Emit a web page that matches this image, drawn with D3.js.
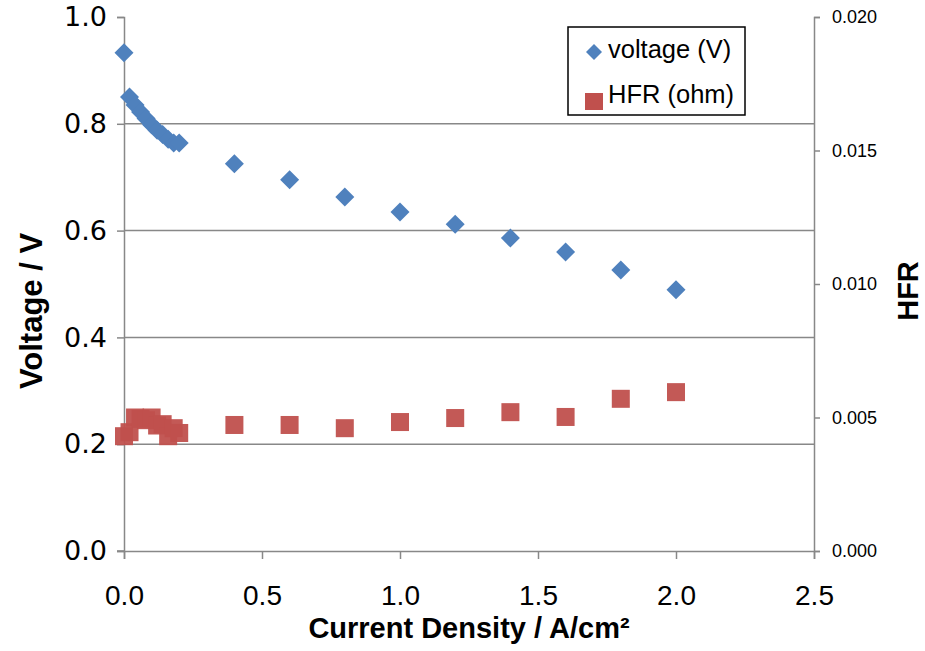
<!DOCTYPE html>
<html>
<head>
<meta charset="utf-8">
<script src="https://cdn.jsdelivr.net/npm/d3@7"></script>
<style>
  body { margin: 0; background: #fff; }
  svg { display: block; }
</style>
</head>
<body>
<svg id="chart"></svg>
<script>
// current density (A/cm2)
var current = [0, 0.02, 0.04, 0.06, 0.08, 0.10, 0.12, 0.14, 0.16, 0.18, 0.20,
               0.4, 0.6, 0.8, 1.0, 1.2, 1.4, 1.6, 1.8, 2.0];
// cell voltage (V)
var voltage = [0.933, 0.850, 0.835, 0.822, 0.810, 0.798, 0.788, 0.780, 0.771, 0.764, 0.764,
               0.725, 0.695, 0.663, 0.635, 0.612, 0.586, 0.560, 0.526, 0.489];
// high frequency resistance (ohm)
var hfr = [0.00430, 0.00445, 0.00500, 0.00495, 0.00490, 0.00500, 0.00470, 0.00475, 0.00430, 0.00460, 0.00442,
           0.00472, 0.00472, 0.00460, 0.00483, 0.00498, 0.00520, 0.00502, 0.00570, 0.00595];

var xTicks = [0, 0.5, 1.0, 1.5, 2.0, 2.5];
var yTicks = [0, 0.2, 0.4, 0.6, 0.8, 1.0];
var y2Ticks = [0, 0.005, 0.010, 0.015, 0.020];

var W = 925, H = 651;
var margin = {top: 17, right: 111, bottom: 100, left: 124};
var width = W - margin.left - margin.right,
    height = H - margin.top - margin.bottom;

var blue = "#4f81bd", red = "#c0504d", grey = "#888888";

var svg = d3.select("#chart").attr("width", W).attr("height", H);
var g = svg.append("g").attr("transform", "translate(" + margin.left + "," + margin.top + ")");

var x = d3.scaleLinear().domain([0, 2.5]).range([0, width]);
var y = d3.scaleLinear().domain([0, 1.0]).range([height, 0]);
var y2 = d3.scaleLinear().domain([0, 0.020]).range([height, 0]);

// gridlines
g.selectAll(".grid").data(yTicks.slice(1, -1)).enter().append("line")
  .attr("x1", 0).attr("x2", width)
  .attr("y1", d => y(d)).attr("y2", d => y(d))
  .attr("stroke", grey).attr("stroke-width", 1.5);

// left axis
var yAxis = g.append("g")
  .call(d3.axisLeft(y).tickValues(yTicks).tickFormat(d3.format(".1f")).tickSize(7).tickPadding(10));
// right axis
var y2Axis = g.append("g").attr("transform", "translate(" + width + ",0)")
  .call(d3.axisRight(y2).tickValues(y2Ticks).tickFormat(d3.format(".3f")).tickSize(6).tickPadding(12));
// bottom axis
var xAxis = g.append("g").attr("transform", "translate(0," + height + ")")
  .call(d3.axisBottom(x).tickValues(xTicks).tickFormat(d3.format(".1f")).tickSize(8).tickPadding(26));
// the bottom axis extends a little left of zero
g.append("line").attr("x1", -7).attr("x2", 0).attr("y1", height).attr("y2", height)
  .attr("stroke", grey).attr("stroke-width", 1.5);

[yAxis, y2Axis, xAxis].forEach(function(a) {
  a.select(".domain").attr("stroke", grey).attr("stroke-width", 1.5);
  a.selectAll(".tick line").attr("stroke", grey).attr("stroke-width", 1.5);
  a.selectAll("text").attr("fill", "#000");
});
yAxis.selectAll("text").style("font-family", "DejaVu Sans").style("font-size", "27px");
y2Axis.selectAll("text").style("font-family", "Liberation Sans").style("font-size", "18px");
xAxis.selectAll("text").style("font-family", "Liberation Sans").style("font-size", "28px");

// HFR squares
var s = 18;
g.selectAll(".hfr").data(current).enter().append("rect")
  .attr("x", (d, i) => x(d) - s / 2)
  .attr("y", (d, i) => y2(hfr[i]) - s / 2)
  .attr("width", s).attr("height", s)
  .attr("fill", red).attr("opacity", 0.95);

// voltage diamonds
var dsz = 9.5;
g.selectAll(".volt").data(current).enter().append("path")
  .attr("d", function(d, i) {
    var cx = x(d), cy = y(voltage[i]);
    return "M" + cx + "," + (cy - dsz) + "L" + (cx + dsz) + "," + cy + "L" + cx + "," + (cy + dsz) + "L" + (cx - dsz) + "," + cy + "Z";
  })
  .attr("fill", blue);

// axis titles
var titleFont = "Liberation Sans";
svg.append("text").attr("x", margin.left + x(1.25)).attr("y", 638)
  .attr("text-anchor", "middle")
  .style("font-family", titleFont).style("font-weight", "bold").style("font-size", "29px")
  .text("Current Density / A/cm²");
svg.append("text").attr("transform", "translate(42,311) rotate(-90)")
  .attr("text-anchor", "middle")
  .style("font-family", titleFont).style("font-weight", "bold").style("font-size", "31px")
  .text("Voltage / V");
svg.append("text").attr("transform", "translate(918,291) rotate(-90)")
  .attr("text-anchor", "middle")
  .style("font-family", titleFont).style("font-weight", "bold").style("font-size", "29px")
  .text("HFR");

// legend
var leg = svg.append("g").attr("transform", "translate(568,27)");
leg.append("rect").attr("width", 177).attr("height", 88)
  .attr("fill", "#fff").attr("stroke", "#000").attr("stroke-width", 1.5);
leg.append("path").attr("d", "M26,17L34,25L26,33L18,25Z").attr("fill", blue);
leg.append("rect").attr("x", 17).attr("y", 66).attr("width", 18).attr("height", 17).attr("fill", red);
leg.append("text").attr("x", 40).attr("y", 31).text("voltage (V)")
  .style("font-family", "Liberation Sans").style("font-size", "25.5px");
leg.append("text").attr("x", 40).attr("y", 76).text("HFR (ohm)")
  .style("font-family", "Liberation Sans").style("font-size", "25.5px");
</script>
</body>
</html>
